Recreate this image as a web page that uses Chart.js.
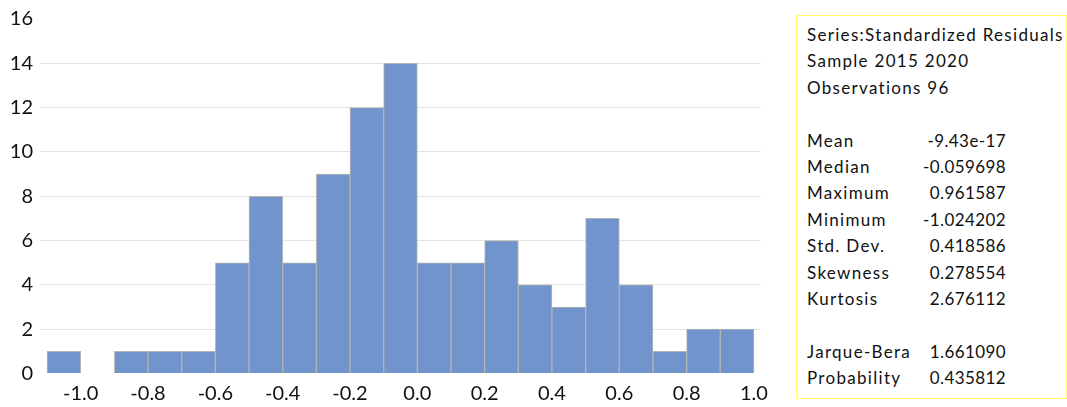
<!DOCTYPE html>
<html>
<head>
<meta charset="utf-8">
<script src="https://cdn.jsdelivr.net/npm/chart.js@4.4.0/dist/chart.umd.min.js"></script>
<style>
  html, body { margin: 0; padding: 0; background: #ffffff; }
  #wrap { position: relative; width: 1067px; height: 407px; overflow: hidden; }
  #chartBox { position: absolute; left: 0; top: 0; width: 790px; height: 407px; }
  #stats {
    position: absolute; left: 796px; top: 15px; width: 271px; height: 384px;
    box-sizing: border-box; border: 1px solid #ffff70;
    font-family: "Lato", "Liberation Sans", sans-serif; font-size: 17px; color: #111;
    padding-top: 6px;
  }
  .row { position: relative; height: 26.4px; line-height: 26.4px; padding-left: 10px; white-space: nowrap; letter-spacing: 1.3px; }
  .val { position: absolute; right: 60px; top: 0; letter-spacing: 0.4px; }
</style>
</head>
<body>
<div id="wrap">
  <div id="chartBox"><canvas id="c"></canvas></div>
  <div id="stats"></div>
</div>
<script>
// ---- data ----
const binCenters = [-1.05, -0.95, -0.85, -0.75, -0.65, -0.55, -0.45, -0.35, -0.25, -0.15, -0.05,
                    0.05, 0.15, 0.25, 0.35, 0.45, 0.55, 0.65, 0.75, 0.85, 0.95];
const counts = [1, 0, 1, 1, 1, 5, 8, 5, 9, 12, 14, 5, 5, 6, 4, 3, 7, 4, 1, 2, 2];
const xTickValues = [-1.0, -0.8, -0.6, -0.4, -0.2, 0.0, 0.2, 0.4, 0.6, 0.8, 1.0];
const yTickValues = [0, 2, 4, 6, 8, 10, 12, 14, 16];

const headerLines = ["Series:Standardized Residuals", "Sample 2015 2020", "Observations 96"];
const statNames = ["Mean", "Median", "Maximum", "Minimum", "Std. Dev.", "Skewness", "Kurtosis"];
const statValues = ["-9.43e-17", "-0.059698", "0.961587", "-1.024202", "0.418586", "0.278554", "2.676112"];
const testNames = ["Jarque-Bera", "Probability"];
const testValues = ["1.661090", "0.435812"];

// ---- stats panel ----
const panel = document.getElementById('stats');
function addRow(label, value) {
  const r = document.createElement('div');
  r.className = 'row';
  r.textContent = label;
  if (value !== undefined) {
    const v = document.createElement('span');
    v.className = 'val';
    v.textContent = value;
    r.appendChild(v);
  }
  panel.appendChild(r);
}
headerLines.forEach(l => addRow(l));
addRow('\u00a0');
statNames.forEach((n, i) => addRow(n, statValues[i]));
addRow('\u00a0');
testNames.forEach((n, i) => addRow(n, testValues[i]));

// ---- chart ----
const FONT = { family: '"Lato", "Liberation Sans", sans-serif', size: 20 };
new Chart(document.getElementById('c'), {
  type: 'bar',
  data: {
    datasets: [{
      data: binCenters.map((x, i) => ({ x: x, y: counts[i] })),
      backgroundColor: '#7294cc',
      borderColor: '#b4b4b4',
      borderWidth: 1,
      barPercentage: 1.0,
      categoryPercentage: 1.0
    }]
  },
  options: {
    responsive: true,
    maintainAspectRatio: false,
    animation: false,
    layout: { padding: { top: 16, right: 29, left: 0, bottom: 0 } },
    plugins: { legend: { display: false }, tooltip: { enabled: false } },
    scales: {
      x: {
        type: 'linear',
        offset: false,
        min: -1.121,
        max: 1.021,
        grid: { display: false, drawTicks: false },
        border: { display: false },
        afterBuildTicks: (axis) => { axis.ticks = xTickValues.map(v => ({ value: v })); },
        afterFit: (axis) => { axis.height = 33.5; },
        ticks: {
          color: '#111',
          font: FONT,
          padding: 8,
          maxRotation: 0,
          autoSkip: false,
          callback: (v) => Number(v).toFixed(1)
        }
      },
      y: {
        min: 0,
        max: 16,
        afterBuildTicks: (axis) => { axis.ticks = yTickValues.map(v => ({ value: v })); },
        afterFit: (axis) => { axis.width = 40; },
        grid: {
          drawTicks: false,
          color: (ctx) => (ctx.tick && (ctx.tick.value === 0 || ctx.tick.value === 16)) ? 'rgba(0,0,0,0)' : '#e3e3e3',
          lineWidth: 1
        },
        border: { display: false },
        ticks: {
          color: '#111',
          font: FONT,
          padding: 7
        }
      }
    }
  }
});
</script>
</body>
</html>
